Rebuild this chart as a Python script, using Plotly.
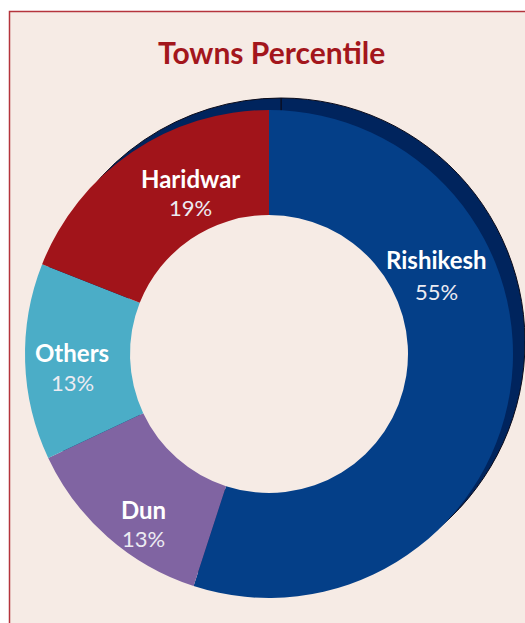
import plotly.graph_objects as go

# ---- data ----
towns = ["Rishikesh", "Dun", "Others", "Haridwar"]
shares = [55, 13, 13, 19]
slice_colors = ["#043f88", "#8064a2", "#4badc7", "#a1141a"]
title_text = "Towns Percentile"

# ---- layout helpers (pixels -> paper) ----
W, H = 525, 623
def px(x):
    return min(max(x / W, 0.0), 1.0)
def py(y):
    return min(max(1 - y / H, 0.0), 1.0)

cx, cy, R = 269, 354, 244          # donut centre / radius in px
hole_r = 139
shift = (12, -12)                  # 3-D depth offset

main_domain = dict(x=[px(cx - R), px(cx + R)], y=[py(cy + R), py(cy - R)])
sh_domain = dict(x=[px(cx - R + shift[0]), px(cx + R + shift[0])],
                 y=[py(cy + R + shift[1]), py(cy - R + shift[1])])

fig = go.Figure()

# depth (shadow) of the donut
fig.add_trace(go.Pie(
    labels=towns, values=shares, sort=False, direction="clockwise", rotation=0,
    hole=159 / R, domain=sh_domain, textinfo="none", hoverinfo="skip",
    marker=dict(colors=["#00245d"] * len(towns),
                line=dict(color="#0b0b1a", width=1)),
    showlegend=False,
))

# main donut
fig.add_trace(go.Pie(
    labels=towns, values=shares, sort=False, direction="clockwise", rotation=0,
    hole=hole_r / R, domain=main_domain, textinfo="none", hoverinfo="label+percent",
    marker=dict(colors=slice_colors, line=dict(width=0)),
    showlegend=False,
))

# label positions (px): name centre, percent centre
label_pos = {
    "Rishikesh": (436, 259, 291),
    "Dun": (143, 509, 538),
    "Others": (72, 352, 382),
    "Haridwar": (190, 178, 207),
}

annotations = [dict(
    text=f"<b>{title_text}</b>", x=px(271), y=py(52), xref="paper", yref="paper",
    showarrow=False, xanchor="center", yanchor="middle",
    font=dict(family="Lato, sans-serif", size=30, color="#a3161c"),
)]
for town, share in zip(towns, shares):
    xx, y1, y2 = label_pos[town]
    annotations.append(dict(
        text=f"<b>{town}</b>", x=px(xx), y=py(y1), xref="paper", yref="paper",
        showarrow=False, xanchor="center", yanchor="middle",
        font=dict(family="Lato, sans-serif", size=24, color="#ffffff")))
    annotations.append(dict(
        text=f"{share}%", x=px(xx), y=py(y2), xref="paper", yref="paper",
        showarrow=False, xanchor="center", yanchor="middle",
        font=dict(family="Lato, sans-serif", size=22, color="#ecebf2")))

fig.update_layout(
    width=W, height=H,
    margin=dict(l=0, r=0, t=0, b=0),
    paper_bgcolor="#ffffff",
    plot_bgcolor="#ffffff",
    shapes=[dict(type="rect", xref="paper", yref="paper", layer="below",
                 x0=9.5 / W, x1=1.05, y0=-0.05, y1=1 - 11.5 / H,
                 fillcolor="#f6ebe5", line=dict(color="#b5343c", width=1.5))],
    annotations=annotations,
)

fig.write_html("out.html")
